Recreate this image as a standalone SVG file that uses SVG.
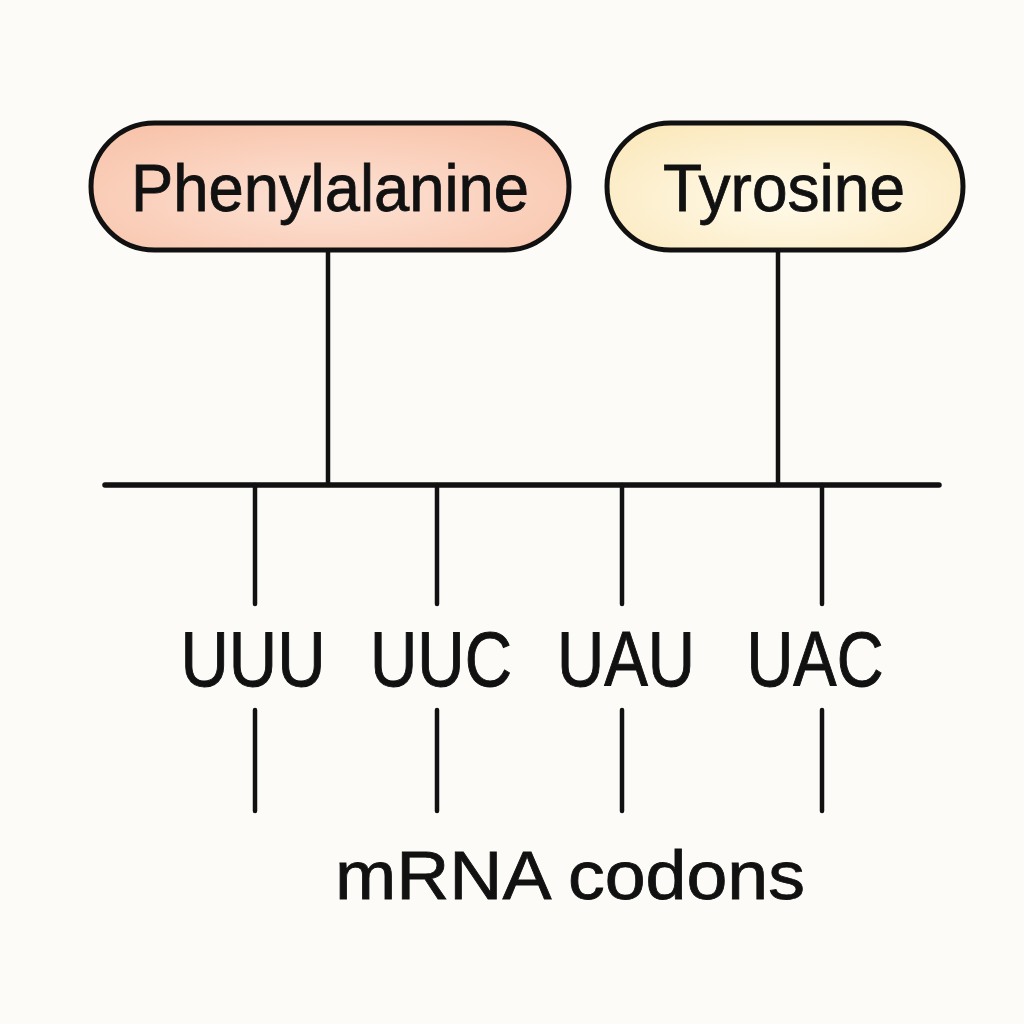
<svg xmlns="http://www.w3.org/2000/svg" width="1024" height="1024" viewBox="0 0 1024 1024">
<style>
.pill{stroke:#111;stroke-width:5}
.lbl{font-family:"Liberation Sans",Arial,sans-serif;fill:#111;stroke:#111;stroke-width:0.8}
.cod{font-family:"Liberation Sans",Arial,sans-serif;font-size:78px;fill:#111;stroke:#111;stroke-width:1}
.ln{stroke:#111;stroke-linecap:round;fill:none}
</style>
<defs>
<radialGradient id="gPhe" cx="0.5" cy="0.6" r="0.7">
<stop offset="0" stop-color="#fde2d4"/>
<stop offset="1" stop-color="#f8c3aa"/>
</radialGradient>
<radialGradient id="gTyr" cx="0.5" cy="0.6" r="0.7">
<stop offset="0" stop-color="#fffaea"/>
<stop offset="1" stop-color="#fbe8bb"/>
</radialGradient>
</defs>
<rect width="1024" height="1024" fill="#fcfbf8"/>
<g id="connectors">
<line class="ln" x1="328" y1="250" x2="328" y2="485" stroke-width="4.5"/>
<line class="ln" x1="778" y1="250" x2="778" y2="485" stroke-width="4.5"/>
<line class="ln" x1="105" y1="485" x2="939" y2="485" stroke-width="5.5"/>
<line class="ln" x1="255" y1="485" x2="255" y2="604" stroke-width="4.5"/>
<line class="ln" x1="437" y1="485" x2="437" y2="604" stroke-width="4.5"/>
<line class="ln" x1="622" y1="485" x2="622" y2="604" stroke-width="4.5"/>
<line class="ln" x1="822" y1="485" x2="822" y2="604" stroke-width="4.5"/>
<line class="ln" x1="255" y1="710" x2="255" y2="811" stroke-width="4.5"/>
<line class="ln" x1="437" y1="710" x2="437" y2="811" stroke-width="4.5"/>
<line class="ln" x1="622" y1="710" x2="622" y2="811" stroke-width="4.5"/>
<line class="ln" x1="822" y1="710" x2="822" y2="811" stroke-width="4.5"/>
</g>
<g id="phenylalanine">
<rect class="pill" x="91" y="123" width="478" height="127" rx="63.5" fill="url(#gPhe)"/>
<text class="lbl" x="330" y="211" font-size="66" text-anchor="middle" textLength="398" lengthAdjust="spacingAndGlyphs">Phenylalanine</text>
</g>
<g id="tyrosine">
<rect class="pill" x="607" y="123" width="356" height="127" rx="63.5" fill="url(#gTyr)"/>
<text class="lbl" x="784" y="211" font-size="66" text-anchor="middle" textLength="242" lengthAdjust="spacingAndGlyphs">Tyrosine</text>
</g>
<g id="codons">
<text class="cod" x="253" y="686" text-anchor="middle" textLength="145" lengthAdjust="spacingAndGlyphs">UUU</text>
<text class="cod" x="441" y="686" text-anchor="middle" textLength="142" lengthAdjust="spacingAndGlyphs">UUC</text>
<text class="cod" x="626" y="686" text-anchor="middle" textLength="138" lengthAdjust="spacingAndGlyphs">UAU</text>
<text class="cod" x="815" y="686" text-anchor="middle" textLength="137" lengthAdjust="spacingAndGlyphs">UAC</text>
</g>
<g id="caption">
<text class="lbl" x="570" y="899" font-size="68" text-anchor="middle" textLength="470" lengthAdjust="spacingAndGlyphs">mRNA codons</text>
</g>
</svg>
